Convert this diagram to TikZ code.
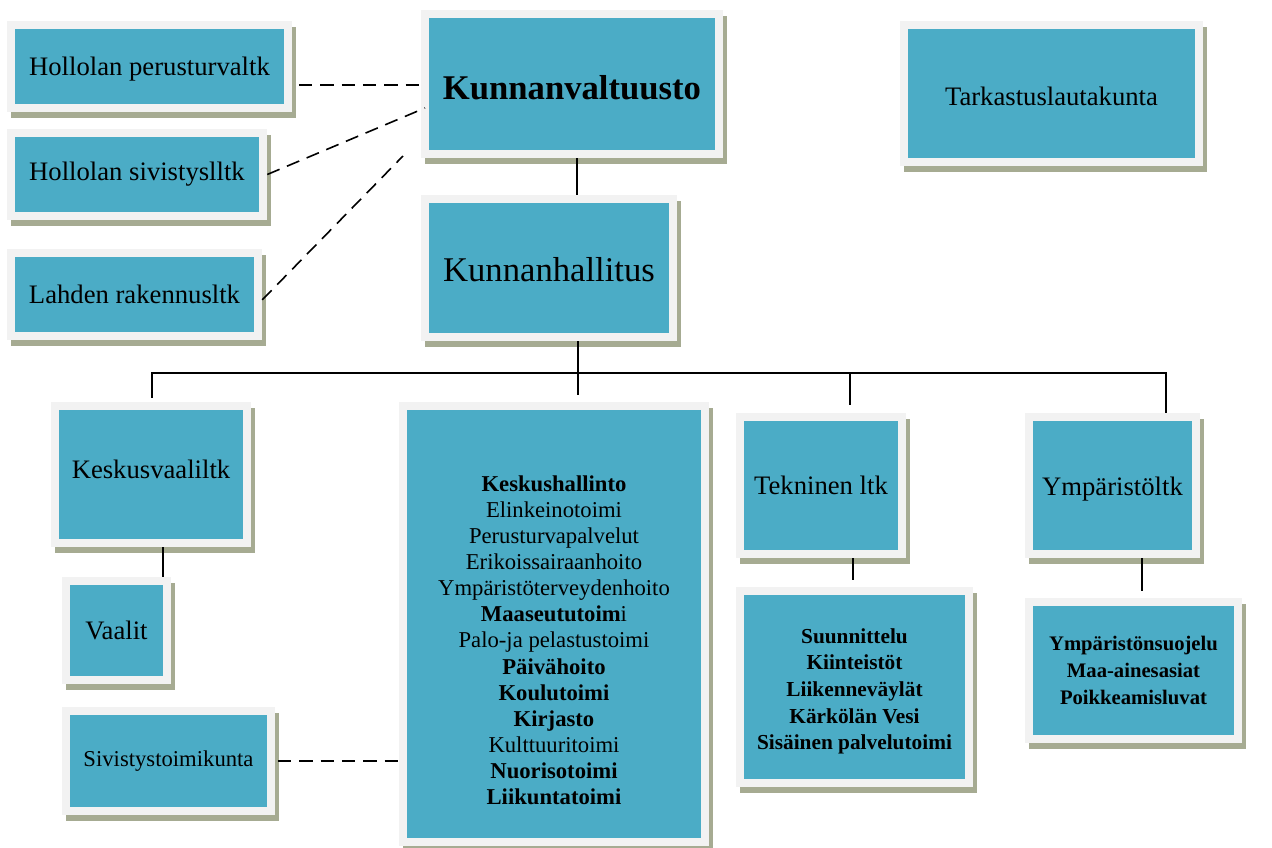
\documentclass[tikz,border=0pt]{standalone}
\usepackage{fontspec}
\setmainfont{Liberation Serif}
\usetikzlibrary{shadows}
\definecolor{tealC}{HTML}{4BACC6}
\definecolor{frameC}{HTML}{F2F2F2}
\definecolor{shadowC}{HTML}{A6AB92}
\newcommand{\shiftv}[2]{\raisebox{#1}[\height][\depth]{#2}}
\begin{document}
\begin{tikzpicture}[x=0.75pt,y=-0.75pt,
  orgbox/.style 2 args={fill=frameC, inner sep=0pt,
    minimum width=#1*0.75pt, minimum height=#2*0.75pt,
    drop shadow={shadow xshift=3pt, shadow yshift=-4.5pt, fill=shadowC, opacity=1},
    path picture={\fill[tealC] ([xshift=5.7pt,yshift=-5.7pt]path picture bounding box.north west) rectangle ([xshift=-5.7pt,yshift=5.7pt]path picture bounding box.south east);},
    font=\fontsize{20}{24}\selectfont, align=center},
  conn/.style={line width=1.2pt},
  dashconn/.style={line width=1.2pt, dash pattern=on 10pt off 6pt}]
\useasboundingbox (0,0) rectangle (1272,847);

\node[orgbox={285}{91}] (hp) at (149.5,66.5) {\shiftv{-2pt}{Hollolan perusturvaltk}};
\node[orgbox={260}{91}] (hs) at (137,174.5) {Hollolan sivistyslltk};
\node[orgbox={255}{91}] (lr) at (134.5,294.5) {Lahden rakennusltk};
\node[orgbox={302}{148}, font=\fontsize{26}{30}\selectfont\bfseries] (kv) at (572,84) {\shiftv{-2.5pt}{Kunnanvaltuusto}};
\node[orgbox={303}{145}] (tl) at (1051.5,93.5) {\shiftv{-2pt}{Tarkastuslautakunta}};
\node[orgbox={256}{146}, font=\fontsize{26}{30}\selectfont] (kh) at (549,268) {\shiftv{-1.5pt}{Kunnanhallitus}};
\node[orgbox={200}{145}] (kvl) at (151,474.5) {\shiftv{4pt}{Keskusvaaliltk}};
\node[orgbox={109}{107}] (va) at (116.5,630.5) {Vaalit};
\node[orgbox={213}{108}, font=\fontsize{17}{20}\selectfont] (st) at (168.5,761) {Sivistystoimikunta};
\node[orgbox={310}{444}, font=\fontsize{17}{19.6}\selectfont] (big) at (554,624) {\shiftv{-14pt}{\begin{tabular}{@{}c@{}}
\textbf{Keskushallinto}\\
Elinkeinotoimi\\
Perusturvapalvelut\\
Erikoissairaanhoito\\
Ympäristöterveydenhoito\\
\textbf{Maaseututoim}i\\
Palo-ja pelastustoimi\\
\textbf{Päivähoito}\\
\textbf{Koulutoimi}\\
\textbf{Kirjasto}\\
Kulttuuritoimi\\
\textbf{Nuorisotoimi}\\
\textbf{Liikuntatoimi}
\end{tabular}}};
\node[orgbox={170}{145}] (te) at (821,485.5) {Tekninen ltk};
\node[orgbox={175}{145}] (yl) at (1112.5,485.5) {\shiftv{-3pt}{Ympäristöltk}};
\node[orgbox={237}{200}, font=\fontsize{16}{20}\selectfont\bfseries] (su) at (854.5,687) {\shiftv{-3pt}{\begin{tabular}{@{}c@{}}Suunnittelu\\Kiinteistöt\\Liikenneväylät\\Kärkölän Vesi\\Sisäinen palvelutoimi\end{tabular}}};
\node[orgbox={217}{145}, font=\fontsize{15.5}{20}\selectfont\bfseries] (ys) at (1133.5,670.5) {Ympäristönsuojelu\\Maa-ainesasiat\\Poikkeamisluvat};

% solid connectors
\coordinate (xa) at (577,0);
\draw[conn] (kv.south -| xa) -- (kh.north -| xa);
\coordinate (bl) at (152,373);
\coordinate (bc) at (578,373);
\coordinate (bt) at (850,373);
\coordinate (br) at (1166,373);
\draw[conn, shorten >=5pt] (kh.south -| bc) -- (big.north -| bc);
\draw[conn, shorten <=3pt] (kvl.north -| bl) -- (bl) -- (br) -- (yl.north -| br);
\draw[conn, shorten >=6pt] (bt) -- (te.north -| bt);
\coordinate (xv) at (163,0);
\draw[conn] (kvl.south -| xv) -- (va.north -| xv);
\coordinate (xs) at (853,0);
\draw[conn, shorten >=5pt] (te.south -| xs) -- (su.north -| xs);
\coordinate (xy) at (1142,0);
\draw[conn, shorten >=5pt] (yl.south -| xy) -- (ys.north -| xy);

% dashed connectors
\coordinate (y1) at (0,85);
\draw[dashconn, shorten <=5pt] (hp.east |- y1) -- (kv.west |- y1);
\coordinate (d2) at (425,108);
\draw[dashconn] (hs.east) -- (d2);
\coordinate (d3) at (403,156);
\draw[dashconn] ([yshift=-4pt]lr.east) -- (d3);
\draw[dashconn, shorten <=2pt] (st.east) -- (st.east -| big.west);
\end{tikzpicture}
\end{document}
